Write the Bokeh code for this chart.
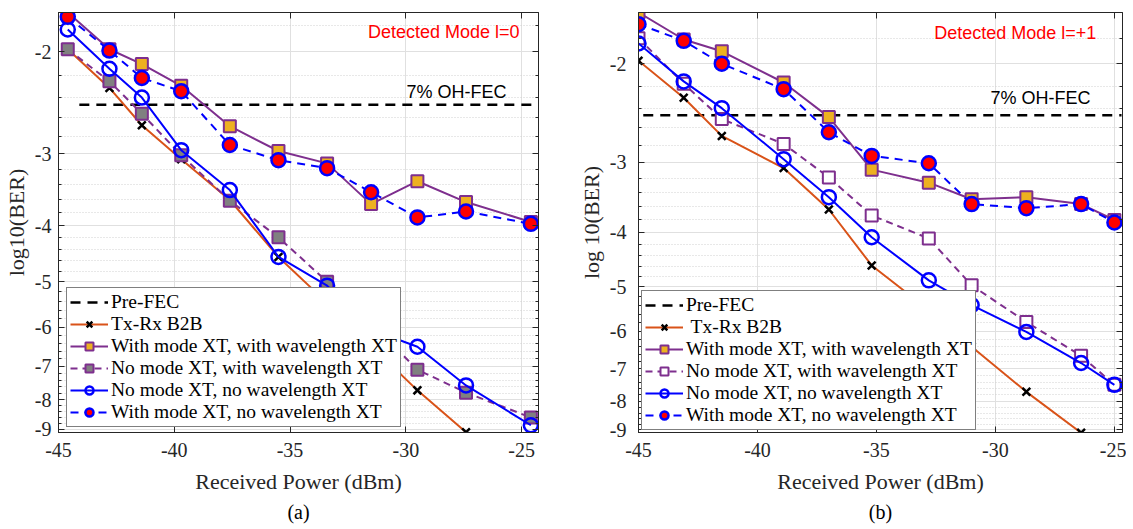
from bokeh.plotting import figure
from bokeh.models import (FixedTicker, CustomJSTickFormatter, Range1d, Label, Legend,
                          LegendItem, LinearAxis, LogAxis, Title)
from bokeh.layouts import row
from bokeh.embed import file_html
from bokeh.resources import INLINE

SERIF = "Liberation Serif"
SANS = "Liberation Sans"

# ---------------- data (log10(BER) vs received power, dBm) ----------------
pre_fec = -2.47

# panel (a): detected mode l=0
x_a = [-44.6, -42.8, -41.4, -39.7, -37.6, -35.5, -33.4, -31.5, -29.5, -27.4, -24.6]
b2b_a = [-1.98, -2.31, -2.68, -3.07, -3.61, -4.53, -5.44, -6.45, -7.71, -9.11]
ww_a = [-1.71, -1.98, -2.10, -2.29, -2.69, -2.97, -3.12, -3.67, -3.35, -3.64, -3.94]
nw_a = [-1.98, -2.25, -2.56, -3.02, -3.62, -4.19, -5.00, -5.90, -7.10, -7.78, -8.59]
nn_a = [-1.83, -2.14, -2.40, -2.96, -3.47, -4.53, -5.08, -6.05, -6.48, -7.56, -8.86]
wn_a = [-1.74, -1.99, -2.22, -2.34, -2.90, -3.08, -3.18, -3.50, -3.87, -3.78, -3.97]

# panel (b): detected mode l=+1
x_b = [-45.0, -43.1, -41.5, -38.9, -37.0, -35.2, -32.8, -31.0, -28.7, -26.4, -25.0]
b2b_b = [-1.975, -2.30, -2.69, -3.07, -3.64, -4.58, -5.50, -6.40, -7.70, -9.11]
ww_b = [-1.62, -1.81, -1.90, -2.16, -2.49, -3.09, -3.26, -3.49, -3.46, -3.56, -3.80]
nw_b = [-1.80, -2.17, -2.51, -2.78, -3.19, -3.73, -4.10, -4.97, -5.78, -6.64, -7.48]
nn_b = [-1.84, -2.15, -2.40, -2.96, -3.46, -4.08, -4.87, -5.39, -6.02, -6.84, -7.48]
wn_b = [-1.70, -1.82, -2.00, -2.22, -2.65, -2.92, -3.01, -3.56, -3.62, -3.56, -3.84]

x_ticks = [-45, -40, -35, -30, -25]
y_ticks = [-2, -3, -4, -5, -6, -7, -8, -9]
labels = ["Pre-FEC", "Tx-Rx B2B", "With mode XT, with wavelength XT",
          "No mode XT, with wavelength XT", "No mode XT, no wavelength XT",
          "With mode XT, no wavelength XT"]

ORANGE = "#D95319"
PURPLE = "#7E2F8E"
GOLD = "#EDB120"
BLUE = "#0000FF"
RED = "#FF0000"
AX = "#262626"


def neg(vals):
    # plotted quantity is -log10(BER) on a reversed log scale
    return [-v for v in vals]


def make_panel(x, b2b, ww, nw, nn, wn, nw_fill, xr, yr, fec_x, ylab, sub, sub_off,
               mode_txt, mode_pos, fec_pos, b2b_label, leg_loc, frame_w, mb_left,
               mb_right, ystand):
    p = figure(frame_width=frame_w, frame_height=420, x_range=Range1d(*xr),
               y_range=Range1d(*yr), y_axis_type="log", output_backend="svg",
               toolbar_location=None, min_border_left=mb_left, min_border_right=mb_right,
               min_border_top=12, min_border_bottom=89, background_fill_color="white",
               border_fill_color="white")
    p.outline_line_color = AX
    p.outline_line_width = 1

    yt = neg(y_ticks)
    minor = []
    for k in range(len(yt) - 1):
        a = yt[k]
        for j in range(1, 5):
            minor.append(round(a + 0.2 * j, 2))
    minor = [1.6, 1.8] + minor
    yticker = FixedTicker(ticks=yt, minor_ticks=minor)
    xticker = FixedTicker(ticks=x_ticks, minor_ticks=[])

    p.xaxis.ticker = xticker
    p.xaxis.formatter = CustomJSTickFormatter(code="return String(tick);")
    p.yaxis.ticker = yticker
    p.yaxis.formatter = CustomJSTickFormatter(code="return '-' + tick;")
    p.xaxis.major_label_text_font = SERIF
    p.yaxis.major_label_text_font = SERIF
    for ax in (p.xaxis[0], p.yaxis[0]):
        ax.axis_line_color = AX
        ax.major_tick_line_color = AX
        ax.minor_tick_line_color = AX
        ax.major_tick_in = 6
        ax.major_tick_out = 0
        ax.minor_tick_in = 3
        ax.minor_tick_out = 0
        ax.major_label_text_font_size = "20px"
        ax.major_label_text_color = AX
        ax.axis_label_text_font = SERIF
        ax.axis_label_text_font_size = "22px"
        ax.axis_label_text_font_style = "normal"
        ax.axis_label_text_color = AX
    p.xaxis.major_label_standoff = 10
    p.xaxis.axis_label_standoff = 9
    p.xaxis.axis_label = "Received Power (dBm)"
    p.yaxis.major_label_standoff = ystand
    p.yaxis.axis_label_standoff = 3
    p.yaxis.axis_label = ylab

    blank = CustomJSTickFormatter(code="return '';")
    top = LinearAxis(ticker=xticker, formatter=blank, major_label_text_font_size="1px",
                     major_label_standoff=0, major_tick_in=6, major_tick_out=0,
                     axis_line_color=AX, major_tick_line_color=AX)
    right = LogAxis(ticker=yticker, formatter=blank, major_label_text_font_size="1px",
                    major_label_standoff=0, major_tick_in=6, major_tick_out=0,
                    minor_tick_in=3, minor_tick_out=0,
                    axis_line_color=AX, major_tick_line_color=AX, minor_tick_line_color=AX)
    p.add_layout(top, "above")
    p.add_layout(right, "right")

    p.xgrid.grid_line_color = "#e0e0e0"
    p.ygrid.grid_line_color = "#e0e0e0"
    p.ygrid.minor_grid_line_color = "#d0d0d0"
    p.ygrid.minor_grid_line_dash = "1 2"

    items = []
    fec = p.line(fec_x, [-pre_fec, -pre_fec], line_color="black", line_width=2.5,
                 line_dash="10 7")
    items.append(LegendItem(label=labels[0], renderers=[fec]))

    xb = x[:len(b2b)]
    l1 = p.line(xb, neg(b2b), line_color=ORANGE, line_width=2)
    s1 = p.scatter(xb, neg(b2b), marker="x", size=11, line_color="black", line_width=2.5)

    l3 = p.line(x, neg(nw), line_color=PURPLE, line_width=2, line_dash="7 5")
    s3 = p.scatter(x, neg(nw), marker="square", size=12, fill_color=nw_fill,
                   line_color=PURPLE, line_width=2)

    l2 = p.line(x, neg(ww), line_color=PURPLE, line_width=2)
    s2 = p.scatter(x, neg(ww), marker="square", size=12, fill_color=GOLD,
                   line_color=PURPLE, line_width=2)

    l4 = p.line(x, neg(nn), line_color=BLUE, line_width=2)
    s4 = p.scatter(x, neg(nn), marker="circle", size=14, fill_color=None,
                   line_color=BLUE, line_width=2.5)

    l5 = p.line(x, neg(wn), line_color=BLUE, line_width=2, line_dash="8 6")
    s5 = p.scatter(x, neg(wn), marker="circle", size=14, fill_color=RED,
                   line_color=BLUE, line_width=2.5)

    items.append(LegendItem(label=b2b_label, renderers=[l1, s1]))
    items.append(LegendItem(label=labels[2], renderers=[l2, s2]))
    items.append(LegendItem(label=labels[3], renderers=[l3, s3]))
    items.append(LegendItem(label=labels[4], renderers=[l4, s4]))
    items.append(LegendItem(label=labels[5], renderers=[l5, s5]))

    leg = Legend(items=items, location=leg_loc, label_text_font=SERIF,
                 label_text_font_size="19.5px", label_text_color="black",
                 glyph_width=38, glyph_height=20, label_height=20, spacing=0,
                 padding=3, margin=0, label_standoff=3,
                 border_line_color="black", border_line_width=1,
                 background_fill_color="white", background_fill_alpha=1)
    p.add_layout(leg)

    p.add_layout(Label(x=mode_pos[0], y=mode_pos[1], text=mode_txt, text_align="right",
                       text_baseline="middle", text_font=SANS, text_font_size="18px",
                       text_color=RED))
    p.add_layout(Label(x=fec_pos[0], y=fec_pos[1], text="7% OH-FEC", text_align="right",
                       text_baseline="middle", text_font=SANS, text_font_size="18px",
                       text_color="black"))

    p.add_layout(Title(text=sub, align="center", text_font=SERIF, text_font_size="20px",
                       text_font_style="normal", text_color="black", standoff=4,
                       offset=sub_off), "below")
    return p


pa = make_panel(x_a, b2b_a, ww_a, nw_a, nn_a, wn_a, "#808080", (-45, -24.27), (9.12, 1.71),
                [-44.1, -24.5], "log10(BER)", "(a)", -12, "Detected Mode l=0",
                (-25.09, 1.85), (-25.65, 2.35), "Tx-Rx B2B", (8, 5), 480, 49, 33, 7)
pb = make_panel(x_b, b2b_b, ww_b, nw_b, nn_b, wn_b, "white", (-45, -24.66), (9.10, 1.62),
                [-44.8, -24.7], "log 10(BER)", "(b)", 0, "Detected Mode l=+1",
                (-25.76, 1.76), (-26.0, 2.30), " Tx-Rx B2B", (3, 2), 484, 67, 4, 12)

layout = row(pa, pb)
open("out.html", "w").write(file_html(layout, INLINE))
